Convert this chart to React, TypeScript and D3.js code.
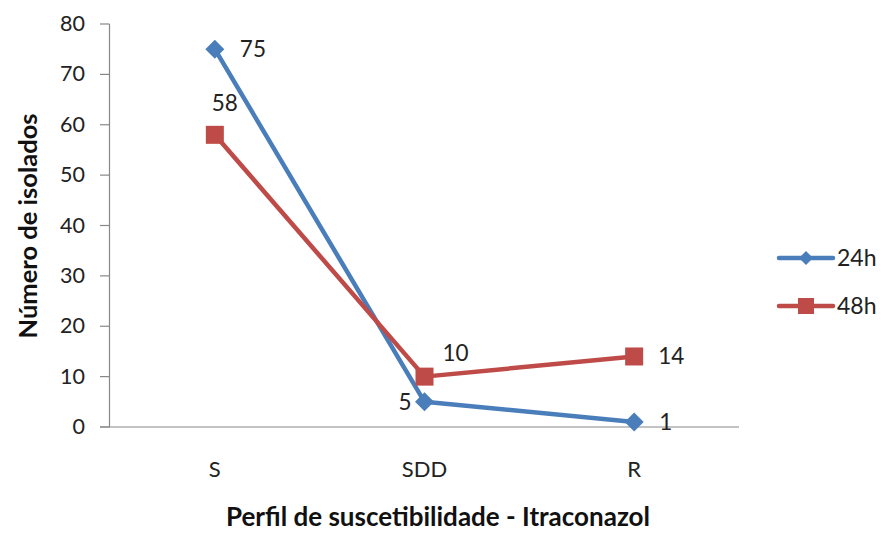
import React from "react";
import * as d3 from "d3";

const categories = ["S", "SDD", "R"];
const series24h = [75, 5, 1];
const series48h = [58, 10, 14];
const seriesNames = ["24h", "48h"];
const yTicks = [0, 10, 20, 30, 40, 50, 60, 70, 80];

const W = 882;
const H = 533;
const FONT = "Lato, 'Open Sans', sans-serif";
const BLUE = "#4A7EBB";
const RED = "#BE4B48";

export default function App() {
  const x = d3.scaleBand<string>().domain(categories).range([110, 739]);
  const y = d3.scaleLinear().domain([0, 80]).range([427, 24]);
  const cx = (c: string) => (x(c) as number) + x.bandwidth() / 2;
  const line = d3
    .line<[string, number]>()
    .x((d) => cx(d[0]))
    .y((d) => y(d[1]));

  const d24 = categories.map((c, i) => [c, series24h[i]] as [string, number]);
  const d48 = categories.map((c, i) => [c, series48h[i]] as [string, number]);

  const diamond = (px: number, py: number, r: number) =>
    `M${px},${py - r}L${px + r},${py}L${px},${py + r}L${px - r},${py}Z`;

  // label offsets per point [dx, dy, anchor]
  const off24: [number, number, string][] = [
    [25, 0, "start"],
    [-13, 0, "end"],
    [25, 0, "start"],
  ];
  const off48: [number, number, string][] = [
    [10, -32, "middle"],
    [18, -24, "start"],
    [24, 0, "start"],
  ];

  return (
    <svg
      width={W}
      height={H}
      style={{ position: "absolute", left: 0, top: 0, background: "#fff" }}
      fontFamily={FONT}
    >
      {/* y axis */}
      <line x1={109.5} x2={109.5} y1={y(80)} y2={y(0)} stroke="#888" strokeWidth={1.2} />
      {yTicks.map((t) => (
        <g key={t}>
          <line x1={100} x2={109.5} y1={y(t)} y2={y(t)} stroke="#888" strokeWidth={1.2} />
          <text x={85} y={y(t)} dy="0.33em" textAnchor="end" fontSize={21.5} fill="#222">
            {t}
          </text>
        </g>
      ))}
      {/* x axis */}
      <line x1={100} x2={739} y1={y(0)} y2={y(0)} stroke="#888" strokeWidth={1.2} />
      {categories.map((c) => (
        <text key={c} x={cx(c)} y={477} textAnchor="middle" fontSize={22} fill="#222">
          {c}
        </text>
      ))}

      {/* series lines */}
      <path d={line(d24) as string} fill="none" stroke={BLUE} strokeWidth={4.5} strokeLinejoin="round" />
      <path d={line(d48) as string} fill="none" stroke={RED} strokeWidth={4.5} strokeLinejoin="round" />
      {d24.map((d) => (
        <path key={"m24" + d[0]} d={diamond(cx(d[0]), y(d[1]), 9.5)} fill={BLUE} />
      ))}
      {d48.map((d) => (
        <rect key={"m48" + d[0]} x={cx(d[0]) - 9} y={y(d[1]) - 9} width={18} height={18} fill={RED} />
      ))}

      {/* data labels */}
      {d24.map((d, i) => (
        <text
          key={"l24" + d[0]}
          x={cx(d[0]) + off24[i][0]}
          y={y(d[1]) + off24[i][1]}
          dy="0.35em"
          textAnchor={off24[i][2] as any}
          fontSize={22.5}
          fill="#222"
        >
          {d[1]}
        </text>
      ))}
      {d48.map((d, i) => (
        <text
          key={"l48" + d[0]}
          x={cx(d[0]) + off48[i][0]}
          y={y(d[1]) + off48[i][1]}
          dy="0.35em"
          textAnchor={off48[i][2] as any}
          fontSize={22.5}
          fill="#222"
        >
          {d[1]}
        </text>
      ))}

      {/* legend */}
      {seriesNames.map((n, i) => {
        const ly = 258 + i * 48;
        const col = i === 0 ? BLUE : RED;
        return (
          <g key={n}>
            <line x1={779} x2={833} y1={ly} y2={ly} stroke={col} strokeWidth={4.5} strokeLinecap="round" />
            {i === 0 ? (
              <path d={diamond(806, ly, 7)} fill={col} />
            ) : (
              <rect x={798} y={ly - 8} width={16} height={16} fill={col} />
            )}
            <text x={837} y={ly} dy="0.35em" fontSize={23} fill="#222">
              {n}
            </text>
          </g>
        );
      })}

      {/* axis titles */}
      <text x={438} y={526} textAnchor="middle" fontSize={26} fontWeight="bold" fill="#111">
        Perfil de suscetibilidade - Itraconazol
      </text>
      <text
        transform={`translate(37,226) rotate(-90)`}
        textAnchor="middle"
        fontSize={25.5}
        fontWeight="bold"
        fill="#111"
      >
        Número de isolados
      </text>
    </svg>
  );
}
